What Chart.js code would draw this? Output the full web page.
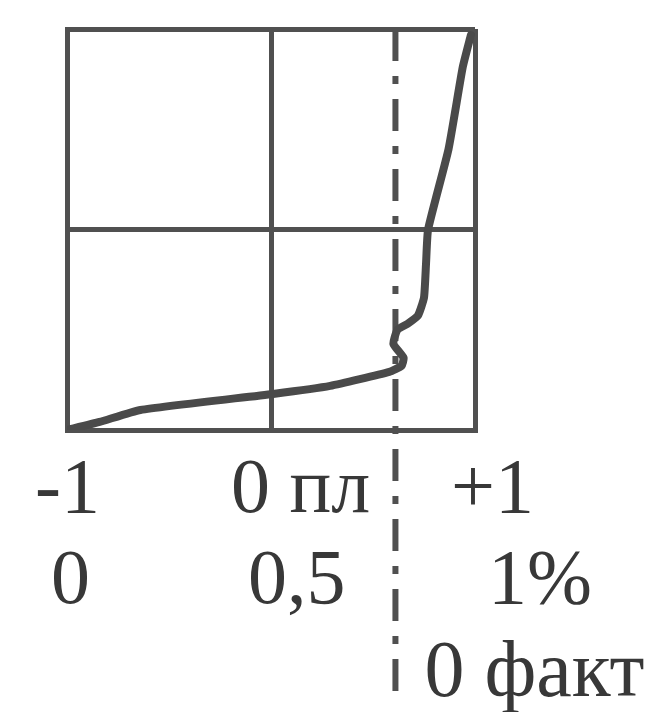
<!DOCTYPE html>
<html>
<head>
<meta charset="utf-8">
<script src="https://cdn.jsdelivr.net/npm/chart.js@4.4.0/dist/chart.umd.min.js"></script>
<style>
  html, body { margin: 0; padding: 0; background: #fff; }
  #wrap { width: 667px; height: 712px; }
</style>
</head>
<body>
<div id="wrap"><canvas id="chart"></canvas></div>
<script>
// curve (x: -1..+1, y: 0..2 grid units)
const curveX = [-1, -0.84, -0.64, 0.01, 0.29, 0.58, 0.64, 0.65, 0.60, 0.62, 0.67, 0.72, 0.75, 0.76, 0.77, 0.87, 0.94, 0.98];
const curveY = [0, 0.04, 0.10, 0.18, 0.22, 0.29, 0.32, 0.36, 0.43, 0.50, 0.53, 0.57, 0.66, 0.83, 1.00, 1.40, 1.81, 1.97];
// actual zero line, runs down past the axis to the "0 факт" label
const factX = [0.61, 0.61];
const factY = [2, -1.37];
const tickValues = [-1, 0, 1];
const topLabels = ["-1", "0 пл", "+1"];
const bottomLabels = ["0", "0,5", "1%"];
const factLabel = "0 факт";

const ink = "#505050";

const labelPlugin = {
  id: 'labels',
  afterDraw(chart) {
    const ctx = chart.ctx;
    const xs = chart.scales.x;
    const ys = chart.scales.y;
    ctx.save();
    ctx.fillStyle = "#383838";
    ctx.textBaseline = "alphabetic";
    ctx.textAlign = "left";
    ctx.font = "78px 'Liberation Serif'";
    const topOff = [-32, -40, -24];
    const botOff = [-16, -23, 13];
    tickValues.forEach((v, i) => {
      const px = xs.getPixelForValue(v);
      ctx.fillText(topLabels[i], px + topOff[i], ys.bottom + 82);
      ctx.fillText(bottomLabels[i], px + botOff[i], ys.bottom + 173);
    });
    ctx.font = "80px 'Liberation Serif'";
    ctx.fillText(factLabel, xs.getPixelForValue(factX[0]) + 29, ys.bottom + 266);
    ctx.restore();
  }
};

new Chart(document.getElementById('chart'), {
  type: 'scatter',
  data: {
    datasets: [{
      data: curveX.map((x, i) => ({ x: x, y: curveY[i] })),
      showLine: true,
      borderColor: "#4a4a4a",
      borderWidth: 8,
      pointRadius: 0,
      tension: 0.15,
      borderCapStyle: 'round',
      borderJoinStyle: 'round'
    }, {
      data: factX.map((x, i) => ({ x: x, y: factY[i] })),
      showLine: true,
      borderColor: "#505050",
      borderWidth: 6,
      borderDash: [32, 15, 8, 15],
      pointRadius: 0,
      clip: false
    }]
  },
  options: {
    responsive: true,
    maintainAspectRatio: false,
    animation: false,
    layout: { padding: { left: 67, right: 192, top: 29, bottom: 282 } },
    plugins: { legend: { display: false }, tooltip: { enabled: false } },
    scales: {
      x: {
        type: 'linear', min: -1, max: 1,
        ticks: { display: false, stepSize: 1 },
        grid: { color: ink, lineWidth: 5, drawTicks: false },
        border: { color: ink, width: 5 }
      },
      y: {
        min: 0, max: 2,
        ticks: { display: false, stepSize: 1 },
        grid: { color: ink, lineWidth: 5, drawTicks: false },
        border: { color: ink, width: 5 }
      }
    }
  },
  plugins: [labelPlugin]
});
</script>
</body>
</html>
